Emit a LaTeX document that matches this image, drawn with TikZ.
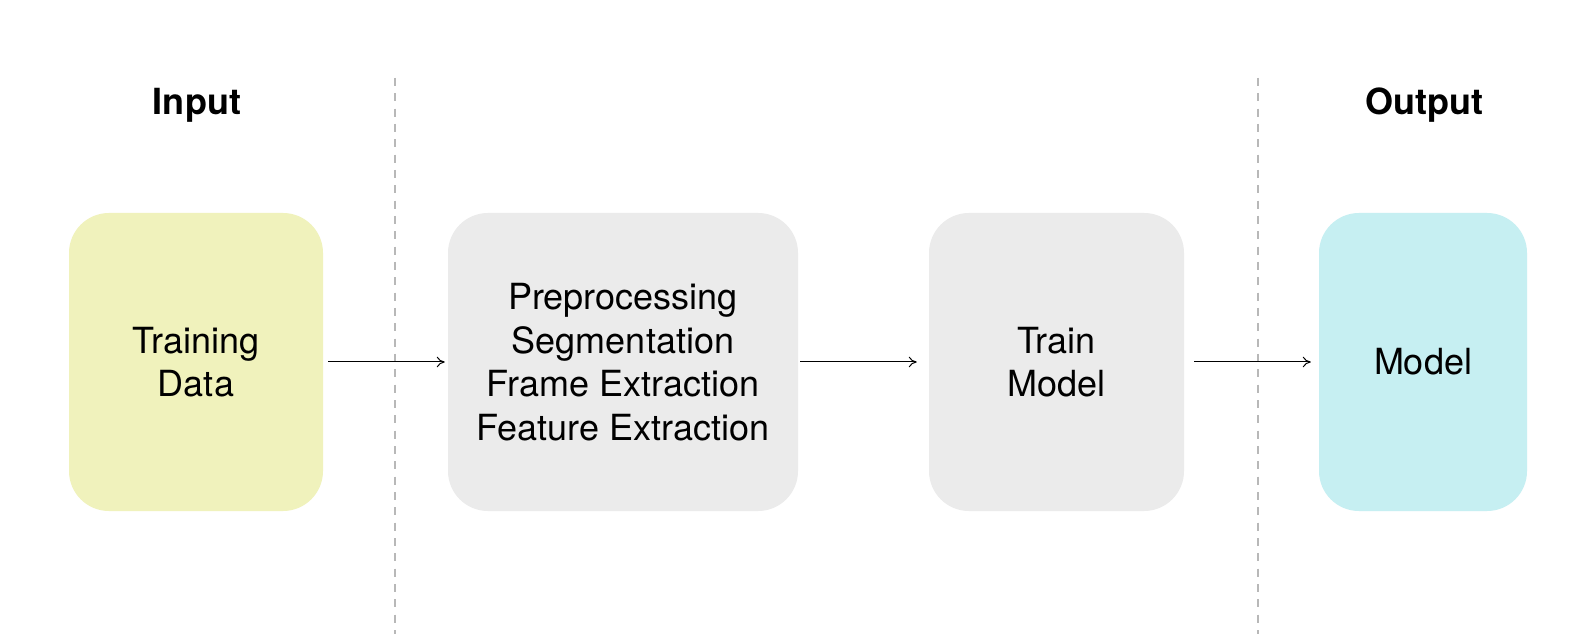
\documentclass[tikz,border=0pt]{standalone}
\usepackage{fontspec}
\setmainfont{TeX Gyre Heros}
\usetikzlibrary{arrows.meta}
\definecolor{inyellow}{HTML}{F0F2BC}
\definecolor{procgray}{HTML}{EBEBEB}
\definecolor{outcyan}{HTML}{C6EFF2}
\definecolor{sepgray}{HTML}{B8B8B8}
\tikzset{
  box/.style={rounded corners=30pt, minimum height=223.5pt, align=center, inner sep=0pt,
    font=\fontsize{27}{32.6}\selectfont},
  title/.style={font=\fontsize{27}{32.6}\selectfont\bfseries},
  flow/.style={line width=0.75pt, -{To[length=6pt,width=8pt]}},
  sep/.style={sepgray, line width=0.9pt, dash pattern=on 6pt off 5.5pt}
}
\begin{document}
\begin{tikzpicture}[x=0.75pt,y=-0.75pt]
\useasboundingbox (0,0) rectangle (1584,634);
\fill[white] (0,0) rectangle (1584,634);
% separators
\coordinate (s1t) at (395,78);
\coordinate (s1b) at (395,634);
\coordinate (s2t) at (1258,78);
\coordinate (s2b) at (1258,634);
\draw[sep] (s1t) -- (s1b);
\draw[sep] (s2t) -- (s2b);
% titles
\node[title] (tin) at (197,105) {Input};
\node[title] (tout) at (1424,105) {Output};
% boxes
\node[box, fill=inyellow, minimum width=190.5pt] (data) at (196,362) {Training\\Data};
\node[box, fill=procgray, minimum width=262.5pt] (prep) at (623,362) {Preprocessing\\Segmentation\\Frame Extraction\\Feature Extraction};
\node[box, fill=procgray, minimum width=191.25pt] (train) at (1056.5,362) {Train\\Model};
\node[box, fill=outcyan, minimum width=156pt] (model) at (1423,362) {Model};
% arrows
\draw[flow] ([xshift=3.75pt]data.east) -- ([xshift=-2.25pt]prep.west);
\draw[flow] ([xshift=1.5pt]prep.east) -- ([xshift=-9pt]train.west);
\draw[flow] ([xshift=7.5pt]train.east) -- ([xshift=-6pt]model.west);
\end{tikzpicture}
\end{document}
